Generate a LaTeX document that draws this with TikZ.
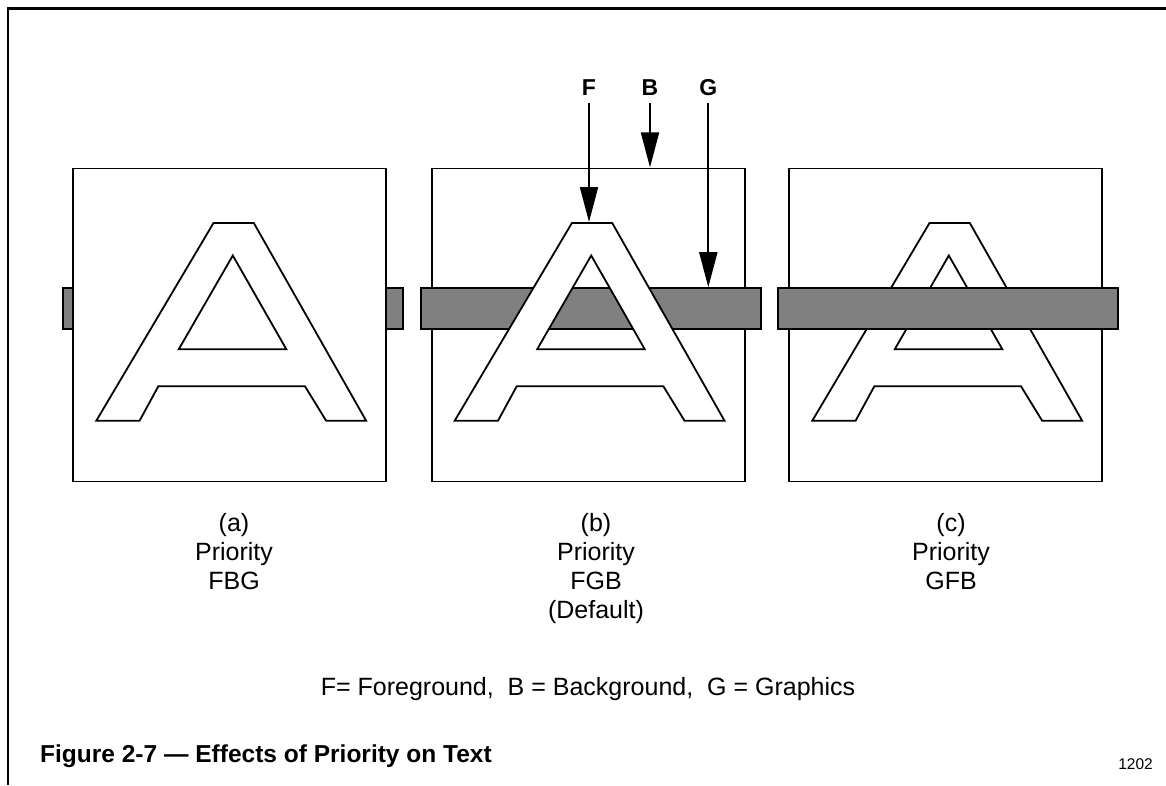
\documentclass[tikz,border=0pt]{standalone}
\usepackage{fontspec}
\setmainfont{Liberation Sans}
\usetikzlibrary{arrows.meta}

\begin{document}
\begin{tikzpicture}[x=1pt,y=-1pt,
  frame/.style={line width=2.5pt},
  panel/.style={draw, fill=white, line width=1.8pt, minimum width=313pt,
    minimum height=313pt, anchor=north west, inner sep=0pt, outer sep=0pt},
  barbox/.style={draw, fill=black!50, line width=1.8pt, minimum width=340pt,
    minimum height=40.7pt, anchor=north west, inner sep=0pt, outer sep=0pt},
  glyph/.style={draw, fill=white, even odd rule, line width=1.8pt},
  pointer/.style={line width=2pt, -{Triangle[length=35pt,width=18pt]}},
  tag/.style={font=\fontsize{23}{26}\selectfont\bfseries, anchor=base, inner sep=8pt},
  caption/.style={align=center, anchor=north, inner sep=0pt,
    font=\fontsize{25}{29}\selectfont},
  letterA/.pic={
    \path[glyph] (23,252.2) -- (140.2,54.5) -- (180.5,54.5) -- (292.8,252.2)
      -- (252.8,252.2) -- (231.7,217.8) -- (85,217.8) -- (66.3,252.2) -- cycle
      (159.5,87) -- (105.5,180.7) -- (213,180.7) -- cycle;
  }]
\useasboundingbox (0,0) rectangle (1166,785);

% page frame (top and left rules)
\draw[frame] (7,8.5) -- (1166,8.5);
\draw[frame] (8,7) -- (8,785);

% (a) priority FBG: graphics at the back, then background, then foreground
\node[barbox] (barA) at (62.7,288.3) {};
\node[panel] (boxA) at (73.3,168.5) {};
\pic at (73.3,168.5) {letterA};

% (b) priority FGB: background, graphics, foreground on top
\node[panel] (boxB) at (431.7,168.5) {};
\node[barbox] (barB) at (420.7,288.3) {};
\pic at (431.7,168.5) {letterA};

% (c) priority GFB: background, foreground, graphics on top
\node[panel] (boxC) at (789.3,168.5) {};
\pic at (789.3,168.5) {letterA};
\node[barbox] (barC) at (777.7,288.3) {};

% layer pointers over panel (b)
\node[tag] (tagF) at (589,95) {F};
\node[tag] (tagB) at (650,95) {B};
\node[tag] (tagG) at (708.3,95) {G};
\coordinate (tipF) at (589,222);
\coordinate (tipB) at (650,167.4);
\coordinate (tipG) at (708.3,287.2);
\draw[pointer] (tagF.south) -- (tipF);
\draw[pointer] (tagB.south) -- (tipB);
\draw[pointer] (tagG.south) -- (tipG);

% captions
\node[caption] (capA) at (234,513.4) {(a)\\Priority\\FBG};
\node[caption] (capB) at (596,513.4) {(b)\\Priority\\FGB\\(Default)};
\node[caption] (capC) at (951,513.4) {(c)\\Priority\\GFB};

\node[anchor=base, inner sep=0pt, font=\fontsize{25}{29}\selectfont] (legend)
  at (588,695) {F= Foreground,\ \ B = Background,\ \ G = Graphics};

\node[anchor=base west, inner sep=0pt, font=\fontsize{24.5}{28}\selectfont\bfseries]
  (title) at (40,762) {Figure 2-7 --- Effects of Priority on Text};
\node[anchor=base, inner sep=0pt, font=\fontsize{15.5}{18}\selectfont] (code)
  at (1135.5,769) {1202};
\end{tikzpicture}
\end{document}
